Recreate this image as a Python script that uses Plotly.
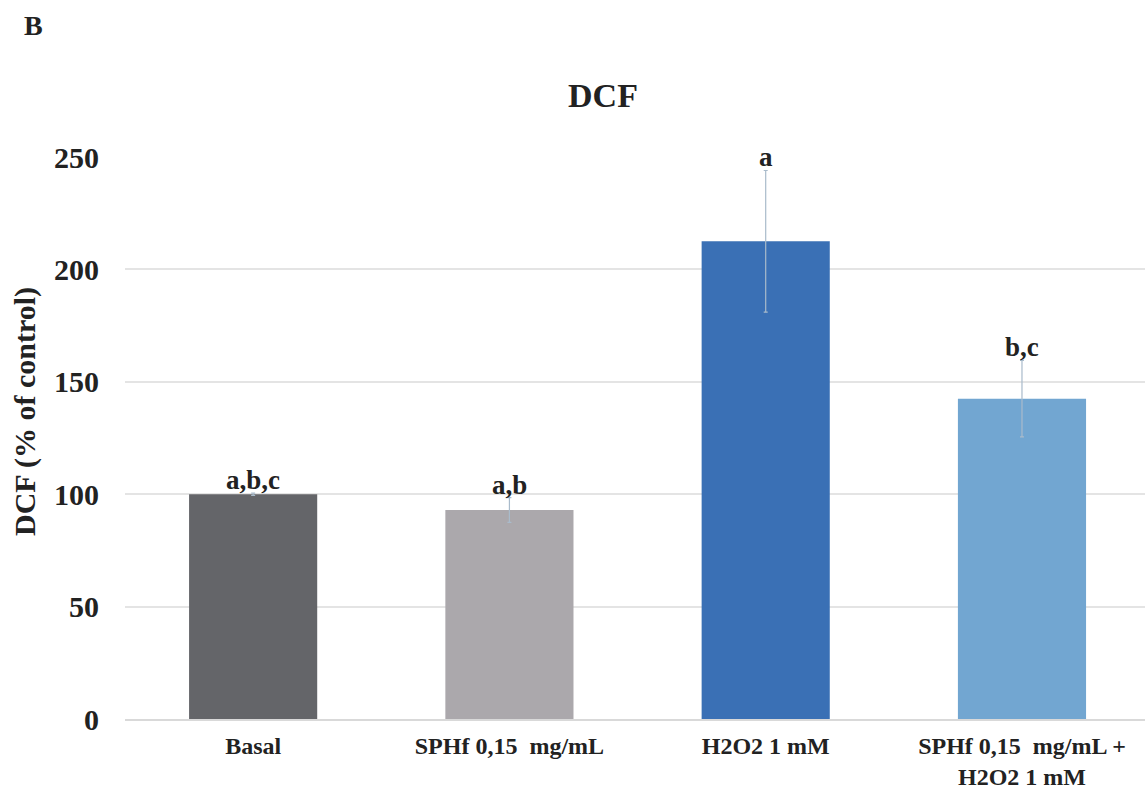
import plotly.graph_objects as go

# Treatment groups and DCF fluorescence (% of control)
groups = ["Basal", "SPHf 0,15  mg/mL", "H2O2 1 mM", "SPHf 0,15  mg/mL +<br>H2O2 1 mM"]
dcf_mean = [100.0, 93.0, 212.5, 142.5]
dcf_err = [0.5, 5.5, 31.5, 17.0]
letters = ["a,b,c", "a,b", "a", "b,c"]
bar_colors = ["#646569", "#ABA8AC", "#3A70B5", "#72A6D1"]

serif = "Liberation Serif, Times New Roman, serif"
ink = "#222222"

W, H = 1145, 791
M_L, M_R, M_T, M_B = 125, 0, 157, 72
plot_w = W - M_L - M_R
plot_h = H - M_T - M_B


def paper_x(px):
    return (px - M_L) / plot_w


def paper_y(py):
    return (H - M_B - py) / plot_h


fig = go.Figure()
fig.add_trace(go.Bar(
    x=groups,
    y=dcf_mean,
    marker=dict(color=bar_colors, line=dict(width=0)),
    error_y=dict(type="data", array=dcf_err, visible=True,
                 color="#A9BBCB", thickness=1.2, width=2),
    width=0.5,
    showlegend=False,
))

# Significance letters sitting on top of each error bar
for g, m, e, t in zip(groups, dcf_mean, dcf_err, letters):
    fig.add_annotation(x=g, y=m + e, text=f"<b>{t}</b>", showarrow=False,
                       yanchor="bottom", yshift=-4,
                       font=dict(family=serif, size=27, color=ink))

# Panel letter in the top-left corner
fig.add_annotation(x=paper_x(33), y=paper_y(25),
                   xref="paper", yref="paper", text="<b>B</b>",
                   showarrow=False, xanchor="center", yanchor="middle",
                   font=dict(family=serif, size=28, color=ink))

# Vertical y-axis title, placed a little above the plot's mid-height
fig.add_annotation(x=paper_x(25), y=paper_y(412),
                   xref="paper", yref="paper", text="<b>DCF (% of control)</b>",
                   textangle=-90, showarrow=False,
                   xanchor="center", yanchor="middle",
                   font=dict(family=serif, size=30, color=ink))

fig.update_layout(
    width=W, height=H,
    margin=dict(l=M_L, r=M_R, t=M_T, b=M_B),
    paper_bgcolor="white", plot_bgcolor="white",
    title=dict(text="<b>DCF</b>", x=603 / W, xanchor="center", y=1 - 95 / H,
               yanchor="middle", font=dict(family=serif, size=34, color=ink)),
    font=dict(family=serif, color=ink),
)

fig.update_xaxes(
    range=[-0.5, 3.48],
    automargin=False,
    showgrid=False,
    showline=True, linecolor="#D9D9D9", linewidth=1.5,
    ticks="", ticklabelstandoff=4,
    tickfont=dict(family=serif, size=24, color=ink),
    tickprefix="<b>", ticksuffix="</b>",
)
fig.update_yaxes(
    range=[0, 250],
    automargin=False,
    dtick=50,
    showgrid=True, gridcolor="#E4E4E4", gridwidth=1.5,
    zeroline=False, showline=False,
    ticks="", ticklabelstandoff=25,
    tickfont=dict(family=serif, size=30, color=ink),
    tickprefix="<b>", ticksuffix="</b>",
)

fig.write_html("out.html")
